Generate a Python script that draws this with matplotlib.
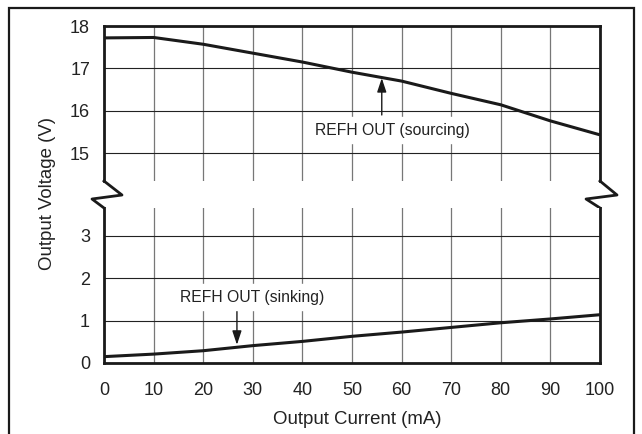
import matplotlib.pyplot as plt
from matplotlib.lines import Line2D
from matplotlib.patches import Rectangle

plt.rcParams['font.family'] = ['Liberation Sans', 'DejaVu Sans']

# data
current_ma = [0, 10, 20, 30, 40, 50, 60, 70, 80, 90, 100]
sourcing_v = [17.72, 17.73, 17.57, 17.36, 17.15, 16.91, 16.70, 16.41, 16.14, 15.76, 15.43]
sinking_v = [0.15, 0.21, 0.29, 0.41, 0.51, 0.63, 0.73, 0.84, 0.95, 1.04, 1.14]

x_ticks = [0, 10, 20, 30, 40, 50, 60, 70, 80, 90, 100]
upper_ticks = [15, 16, 17, 18]
lower_ticks = [0, 1, 2, 3]

fig = plt.figure(figsize=(6.42, 4.34), dpi=100)
ax_top = fig.add_axes([0.162, 0.5829, 0.7726, 0.3571])
ax_bot = fig.add_axes([0.162, 0.1636, 0.7726, 0.3571])

line_kw = dict(color='#1a1a1a', lw=2.2, solid_capstyle='butt')
ax_top.plot(current_ma, sourcing_v, **line_kw)
ax_bot.plot(current_ma, sinking_v, **line_kw)

ax_top.set_ylim(14.34, 18)
ax_bot.set_ylim(0, 3.66)

for ax, yt in [(ax_top, upper_ticks), (ax_bot, lower_ticks)]:
    ax.set_xlim(0, 100)
    ax.set_xticks(x_ticks)
    ax.set_yticks(yt)
    ax.tick_params(length=0, labelsize=13, colors='#222222')
    ax.tick_params(axis='y', pad=10)
    ax.tick_params(axis='x', pad=14)
    ax.grid(axis='x', color='#777777', lw=0.9)
    ax.grid(axis='y', color='#222222', lw=0.8)
    ax.set_axisbelow(True)
    for s in ax.spines.values():
        s.set_linewidth(2.0)
        s.set_color('#1a1a1a')

ax_top.spines['bottom'].set_visible(False)
ax_top.tick_params(axis='x', labelbottom=False)
ax_bot.spines['top'].set_visible(False)
ax_bot.set_xticklabels([str(v) for v in x_ticks])

# break zigzags on both sides
brk_kw = dict(transform=ax_top.transAxes, color='#1a1a1a', lw=2.0, clip_on=False)
ax_top.add_line(Line2D([0, 0.0363, -0.0242, 0], [0, -0.0903, -0.116, -0.174], **brk_kw))
ax_top.add_line(Line2D([1, 1.0343, 0.9718, 1], [0, -0.0903, -0.116, -0.174], **brk_kw))

# annotations
arrow_kw = dict(arrowstyle='-|>,head_length=0.6,head_width=0.2', color='#1a1a1a',
                lw=1.0, mutation_scale=14, shrinkA=0, shrinkB=0)
ax_top.annotate('', xy=(56, 16.77), xytext=(56, 15.9), arrowprops=arrow_kw)
ax_top.text(42.5, 15.54, 'REFH OUT (sourcing)', fontsize=11.3, va='center',
            color='#222222', backgroundcolor='white')
ax_bot.annotate('', xy=(26.8, 0.43), xytext=(26.8, 1.31), arrowprops=arrow_kw)
ax_bot.text(15.3, 1.55, 'REFH OUT (sinking)', fontsize=11.3, va='center',
            color='#222222', backgroundcolor='white')

fig.text(357 / 642, 1 - 419 / 434, 'Output Current (mA)', ha='center', va='center',
         fontsize=13.4, color='#222222')
fig.text(48 / 642, 1 - 194 / 434, 'Output Voltage (V)', ha='center', va='center',
         rotation=90, fontsize=13.4, color='#222222')

# outer frame (bottom edge runs off the picture)
fig.patches.append(Rectangle((9 / 642, -0.1), 625 / 642, 1.1 - 8 / 434,
                             transform=fig.transFigure, fill=False,
                             edgecolor='#1a1a1a', lw=1.6))

fig.savefig('out.png', dpi=100)
